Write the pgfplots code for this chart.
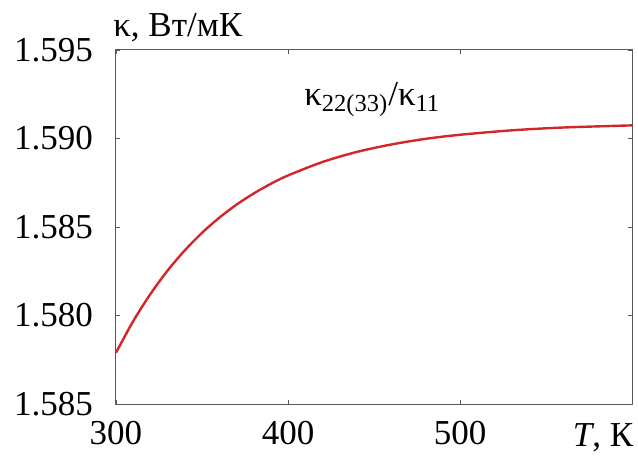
\documentclass[border=0pt]{standalone}
\usepackage{fontspec}
\setmainfont{Liberation Serif}
\usepackage{pgfplots}
\pgfplotsset{compat=1.18}
\definecolor{curvered}{RGB}{212,38,38}

\begin{document}
\begin{tikzpicture}[font=\fontsize{17.5}{20}\selectfont]
\begin{axis}[
    scale only axis,
    width=258pt,
    height=177pt,
    xmin=300, xmax=600,
    ymin=1.575, ymax=1.595,
    xtick={300,400,500,600},
    xticklabels={300,400,500,{}},
    ytick={1.575,1.580,1.585,1.590,1.595},
    yticklabels={1.585,1.580,1.585,1.590,1.595},
    tick align=inside,
    major tick length=2pt,
    tick style={gray!70!black, line width=0.4pt},
    axis line style={gray!70!black, line width=0.5pt},
    xticklabel style={yshift=-5pt},
    yticklabel style={xshift=-8pt},
    clip=false,
]
\addplot[color=curvered, line width=1.2pt, smooth] coordinates {
    (300, 1.57790)
    (310, 1.57968)
    (320, 1.58121)
    (330, 1.58254)
    (340, 1.58368)
    (350, 1.58467)
    (360, 1.58552)
    (370, 1.58626)
    (380, 1.58689)
    (390, 1.58744)
    (400, 1.58791)
    (420, 1.58867)
    (440, 1.58924)
    (460, 1.58966)
    (480, 1.58998)
    (500, 1.59021)
    (530, 1.59046)
    (560, 1.59062)
    (600, 1.59074)
};
\node[anchor=center] at (axis cs:449,1.5922) {κ\textsubscript{22(33)}/κ\textsubscript{11}};
\node[anchor=south west, inner sep=0pt] at (rel axis cs:-0.006,1.022) {κ, Вт/мК};
\node[anchor=north east, inner sep=0pt] at ([yshift=-9.5pt]rel axis cs:1.003,0) {\textit{T}, К};
\coordinate (bl) at (rel axis cs:-0.2248,-0.1469);
\coordinate (tr) at (rel axis cs:1.0116,1.1412);
\end{axis}
\pgfresetboundingbox
\path[use as bounding box] (bl) rectangle (tr);
\end{tikzpicture}
\end{document}
